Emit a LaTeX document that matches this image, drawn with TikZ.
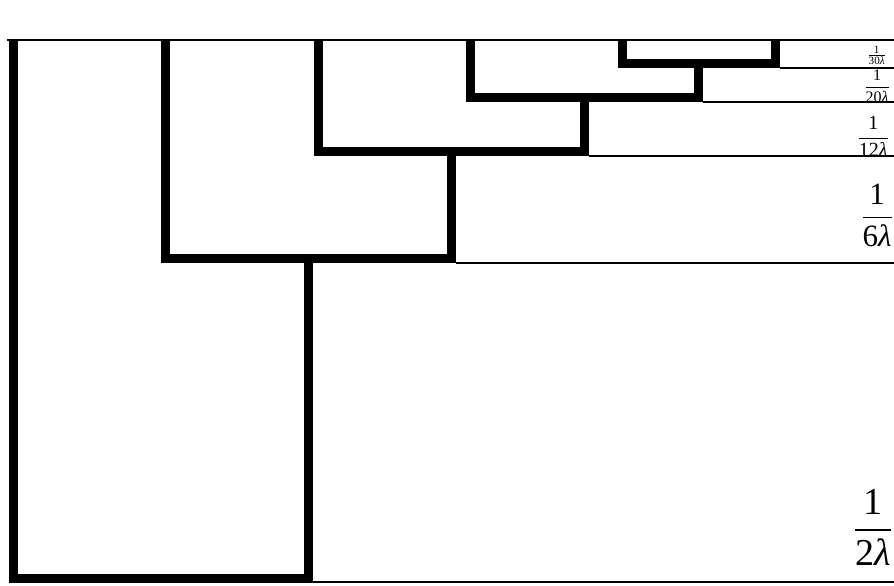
\documentclass[tikz,border=0pt]{standalone}
\usepackage{mathptmx}
\usepackage{amsmath}
\usepackage{fontspec}
\setmainfont{Liberation Serif}
\usetikzlibrary{positioning}
\tikzset{
  branch/.style={
    line width=9pt,
    line join=miter,
  },
  level/.style={
    line width=1.3pt,
  },
  rate/.style={
    anchor=south east,
    inner sep=0pt,
  },
}
\newcommand{\tmrca}[1]{\frac{\text{1}}{\text{#1\textit{λ}}}}

\begin{document}
\begin{tikzpicture}[x=1pt,y=-1pt]
  \useasboundingbox (0,0) rectangle (894,586);
  % lineages
  \foreach \x [count=\i] in {13,165,318,470,622,775}{
    \coordinate (l\i) at (\x,41.5);
  }
  % coalescences
  \coordinate (c5) at (698.5,63.5);
  \coordinate (c4) at (584.2,97.5);
  \coordinate (c3) at (451.1,151.5);
  \coordinate (c2) at (308,258.5);
  \coordinate (c1) at (160.5,578);
  \draw[branch] (l5) |- (c5) -| (l6);
  \draw[branch] (l4) |- (c4) -| (c5);
  \draw[branch] (l3) |- (c3) -| (c4);
  \draw[branch] (l2) |- (c2) -| (c3);
  \draw[branch] (l1) |- (c1) -| (c2);
  % time axis
  \coordinate (top) at (894,40);
  \draw[level] (7,40) -- (top);
  \foreach \x/\y [count=\i] in {779.5/68,703/102,588.7/156,455.6/263,312.5/582}{
    \coordinate (e\i) at (894,\y);
    \draw[level] (\x,\y) -- (e\i);
  }
  \node[rate,font=\fontsize{15}{18}\selectfont] (r5) at (886,65) {$\tmrca{30}$};
  \node[rate,font=\fontsize{16}{19}\selectfont] (r4) at (890,103) {$\displaystyle\tmrca{20}$};
  \node[rate,font=\fontsize{20}{24}\selectfont] (r3) at (889,157) {$\displaystyle\tmrca{12}$};
  \node[rate,font=\fontsize{31}{36}\selectfont] (r2) at (893,247) {$\displaystyle\tmrca{6}$};
  \node[rate,font=\fontsize{38}{44}\selectfont] (r1) at (892,566) {$\displaystyle\tmrca{2}$};
\end{tikzpicture}
\end{document}
